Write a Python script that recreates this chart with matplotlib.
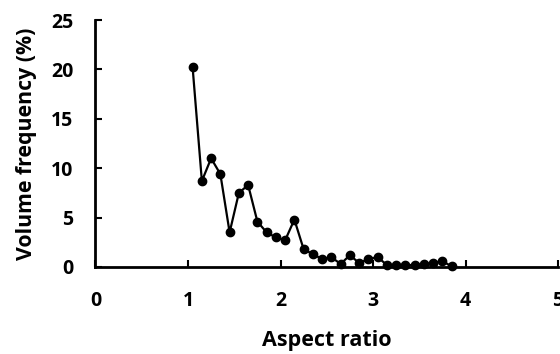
import matplotlib.pyplot as plt
import numpy as np

# aspect ratio bins (centres) and volume frequency (%)
aspect_ratio = [1.05, 1.15, 1.25, 1.35, 1.45, 1.55, 1.65, 1.75, 1.85, 1.95,
                2.05, 2.15, 2.25, 2.35, 2.45, 2.55, 2.65, 2.75, 2.85, 2.95,
                3.05, 3.15, 3.25, 3.35, 3.45, 3.55, 3.65, 3.75, 3.85]
volume_freq = [20.2, 8.7, 11.0, 9.4, 3.5, 7.5, 8.3, 4.6, 3.5, 3.0,
               2.7, 4.8, 1.8, 1.3, 0.8, 1.0, 0.3, 1.2, 0.4, 0.8,
               1.0, 0.2, 0.2, 0.2, 0.2, 0.3, 0.4, 0.6, 0.05]

x_ticks = [0, 1, 2, 3, 4, 5]
y_ticks = [0, 5, 10, 15, 20, 25]

plt.rcParams['font.family'] = ['Open Sans', 'DejaVu Sans']
plt.rcParams['font.weight'] = 'bold'

fig = plt.figure(figsize=(5.6, 3.54), dpi=100)
ax = fig.add_axes([0.1705, 0.2458, 0.826, 0.6977])

ax.plot(aspect_ratio, volume_freq, color='black', linewidth=1.6,
        marker='o', markersize=6, clip_on=False)

ax.set_xlim(0, 5)
ax.set_ylim(0, 25)
ax.set_xticks(x_ticks)
ax.set_yticks(y_ticks)
ax.tick_params(direction='in', length=5, width=1.5, labelsize=14)
ax.tick_params(axis='x', pad=17)
ax.tick_params(axis='y', pad=16)

for side in ['top', 'right']:
    ax.spines[side].set_visible(False)
for side in ['left', 'bottom']:
    ax.spines[side].set_linewidth(2)

ax.set_xlabel('Aspect ratio', fontsize=15.5, fontweight='bold', labelpad=14)
ax.set_ylabel('Volume frequency (%)', fontsize=15.3, fontweight='bold', labelpad=10)

plt.savefig('out.png', dpi=100)
